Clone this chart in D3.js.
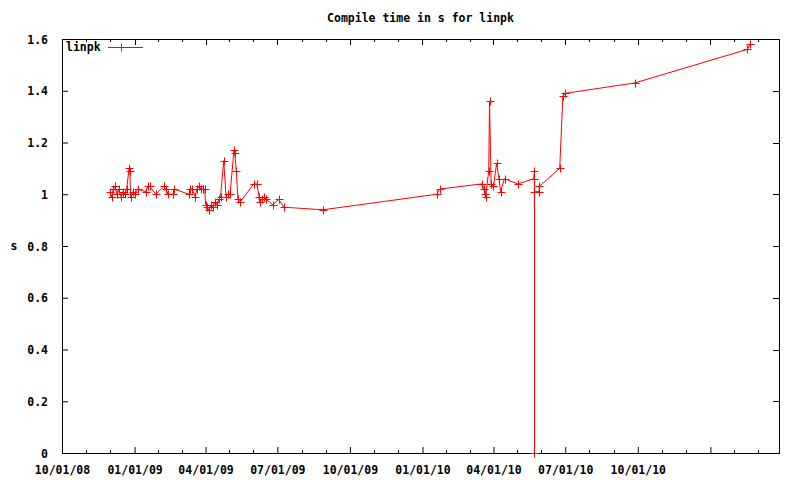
<!DOCTYPE html>
<html>
<head>
<meta charset="utf-8">
<script src="https://cdn.jsdelivr.net/npm/d3@7"></script>
<style>
  body { margin: 0; background: #fff; }
  text { font-family: "DejaVu Sans Mono", monospace; font-size: 11.5px; font-weight: bold; fill: #000; }
</style>
</head>
<body>
<svg id="chart"></svg>
<script>
// compile dates and times (s) for linpk
const dates = [
  "2008-12-01", "2008-12-03", "2008-12-05", "2008-12-07", "2008-12-10", "2008-12-12",
  "2008-12-15", "2008-12-17", "2008-12-20", "2008-12-22", "2008-12-25", "2008-12-26",
  "2008-12-27", "2008-12-30", "2009-01-01", "2009-01-05", "2009-01-15", "2009-01-18",
  "2009-01-20", "2009-01-28", "2009-02-07", "2009-02-10", "2009-02-12", "2009-02-19",
  "2009-02-20", "2009-03-11", "2009-03-12", "2009-03-15", "2009-03-19", "2009-03-21",
  "2009-03-24", "2009-03-26", "2009-03-29", "2009-03-31", "2009-04-01", "2009-04-03",
  "2009-04-05", "2009-04-08", "2009-04-10", "2009-04-13", "2009-04-15", "2009-04-18",
  "2009-04-20", "2009-04-24", "2009-04-27", "2009-04-29", "2009-05-02", "2009-05-07",
  "2009-05-08", "2009-05-10", "2009-05-12", "2009-05-15", "2009-06-01", "2009-06-05",
  "2009-06-08", "2009-06-09", "2009-06-11", "2009-06-14", "2009-06-17", "2009-06-25",
  "2009-07-03", "2009-07-09", "2009-08-28", "2010-01-19", "2010-01-23", "2010-03-17",
  "2010-03-20", "2010-03-21", "2010-03-22", "2010-03-26", "2010-03-27", "2010-03-29",
  "2010-04-01", "2010-04-05", "2010-04-08", "2010-04-10", "2010-04-15", "2010-05-02",
  "2010-05-22", "2010-05-23", "2010-05-23", "2010-05-23", "2010-05-29", "2010-05-29",
  "2010-06-24", "2010-06-28", "2010-07-01", "2010-09-27", "2011-02-17", "2011-02-20"
];
const times = [
  1.01, 0.99, 1.02, 1.03, 1.00, 1.02,
  0.99, 1.01, 1.00, 1.02, 1.10, 1.09,
  0.99, 1.01, 1.00, 1.02, 1.01, 1.03,
  1.03, 1.00, 1.03, 1.02, 1.00, 1.00,
  1.02, 1.00, 1.02, 1.02, 0.99, 1.02,
  1.03, 1.02, 1.02, 1.02, 0.96, 0.95,
  0.94, 0.96, 0.95, 0.97, 0.96, 0.98,
  0.99, 1.13, 0.99, 1.00, 1.00, 1.17,
  1.16, 1.09, 0.98, 0.97, 1.04, 1.04,
  0.99, 0.97, 0.98, 0.99, 0.98, 0.96,
  0.98, 0.95, 0.94, 1.00, 1.02, 1.04,
  1.02, 1.00, 0.99, 1.09, 1.36, 1.04,
  1.03, 1.12, 1.06, 1.01, 1.06, 1.04,
  1.06, 1.09, 0.00, 1.01, 1.01, 1.03,
  1.10, 1.38, 1.39, 1.43, 1.56, 1.58
];

const xTickDates = ["2008-10-01", "2009-01-01", "2009-04-01", "2009-07-01", "2009-10-01",
                    "2010-01-01", "2010-04-01", "2010-07-01", "2010-10-01", "2011-01-01"];
const xTickLabels = ["10/01/08", "01/01/09", "04/01/09", "07/01/09", "10/01/09",
                     "01/01/10", "04/01/10", "07/01/10", "10/01/10", ""];
const yTicks = [0, 0.2, 0.4, 0.6, 0.8, 1, 1.2, 1.4, 1.6];
const xDomain = ["2008-10-01", "2011-03-29"];

const parseDate = d3.utcParse("%Y-%m-%d");

class compileChart {
    constructor(_config, _data) {
        this.config = {
            parentElement: _config.parentElement,
            containerWidth: _config.containerWidth || 800,
            containerHeight: _config.containerHeight || 480,
            margin: _config.margin || {top: 39, right: 21, bottom: 27, left: 62}
        }
        this.data = _data;
        this.initVis();
    }

    initVis() {
        let vis = this;

        vis.width = vis.config.containerWidth - vis.config.margin.left - vis.config.margin.right;
        vis.height = vis.config.containerHeight - vis.config.margin.top - vis.config.margin.bottom;

        vis.xScale = d3.scaleUtc()
            .domain(xDomain.map(parseDate))
            .range([0, vis.width]);

        vis.yScale = d3.scaleLinear()
            .domain([0, 1.6])
            .range([vis.height, 0]);

        vis.svg = d3.select(vis.config.parentElement)
            .attr('width', vis.config.containerWidth)
            .attr('height', vis.config.containerHeight);

        vis.chart = vis.svg.append('g')
            .attr('transform', `translate(${vis.config.margin.left},${vis.config.margin.top})`);

        // major x tics every 3 months, two minor tics between
        vis.majorX = xTickDates.map(parseDate);
        vis.minorX = [];
        vis.majorX.forEach((d, i) => {
            let next = vis.majorX[i + 1] || d3.utcMonth.offset(d, 3);
            let step = (next - d) / 3;
            [1, 2].forEach(k => {
                let m = new Date(+d + k * step);
                if (m <= vis.xScale.domain()[1]) vis.minorX.push(m);
            });
        });

        vis.xAxis = d3.axisBottom(vis.xScale)
            .tickValues(vis.majorX)
            .tickFormat((d, i) => xTickLabels[i])
            .tickSizeInner(-6)
            .tickSizeOuter(0)
            .tickPadding(13);

        vis.yAxis = d3.axisLeft(vis.yScale)
            .tickValues(yTicks)
            .tickFormat(d => d === 0 || d === 1 ? d3.format("d")(d) : d3.format(".1f")(d))
            .tickSizeInner(-6)
            .tickSizeOuter(0)
            .tickPadding(14);

        // Chart title
        vis.svg.append('text')
            .attr('x', vis.config.margin.left + vis.width / 2)
            .attr('y', 22)
            .attr('text-anchor', 'middle')
            .text('Compile time in s for linpk');

        // Y axis label
        vis.svg.append('text')
            .attr('x', 14)
            .attr('y', vis.config.margin.top + vis.height / 2 + 4)
            .attr('text-anchor', 'middle')
            .text('s');
    }

    updateVis() {
        let vis = this;

        vis.xValue = d => d.date;
        vis.yValue = d => d.value;

        vis.line = d3.line()
            .x(d => vis.xScale(vis.xValue(d)))
            .y(d => vis.yScale(vis.yValue(d)));

        vis.renderVis();
    }

    renderVis() {
        let vis = this;

        vis.xAxisG = vis.chart.append('g')
            .attr('class', 'axis x-axis')
            .attr('transform', `translate(0,${vis.height})`)
            .call(vis.xAxis);

        vis.yAxisG = vis.chart.append('g')
            .attr('class', 'axis y-axis')
            .call(vis.yAxis);

        vis.chart.selectAll('.domain').remove();
        vis.chart.selectAll('.tick line').attr('stroke', '#000');
        vis.chart.selectAll('.tick text')
            .style('font-family', '"DejaVu Sans Mono", monospace')
            .style('font-size', '11.5px')
            .style('font-weight', 'bold');
        vis.yAxisG.selectAll('.tick text').attr('dy', '0.35em');

        // mirrored tics on top and right
        vis.chart.append('g')
            .selectAll('line')
            .data(vis.majorX)
            .join('line')
            .attr('x1', d => Math.round(vis.xScale(d)) + 0.5)
            .attr('x2', d => Math.round(vis.xScale(d)) + 0.5)
            .attr('y1', 0).attr('y2', 6)
            .attr('stroke', '#000');

        vis.chart.append('g')
            .selectAll('line')
            .data(vis.minorX)
            .join('line')
            .attr('x1', d => Math.round(vis.xScale(d)) + 0.5)
            .attr('x2', d => Math.round(vis.xScale(d)) + 0.5)
            .attr('y1', 0).attr('y2', 3)
            .attr('stroke', '#000');

        vis.chart.append('g')
            .selectAll('line')
            .data(vis.minorX)
            .join('line')
            .attr('x1', d => Math.round(vis.xScale(d)) + 0.5)
            .attr('x2', d => Math.round(vis.xScale(d)) + 0.5)
            .attr('y1', vis.height).attr('y2', vis.height - 3)
            .attr('stroke', '#000');

        vis.chart.append('g')
            .selectAll('line')
            .data(yTicks)
            .join('line')
            .attr('x1', vis.width).attr('x2', vis.width - 6)
            .attr('y1', d => Math.round(vis.yScale(d)) + 0.5)
            .attr('y2', d => Math.round(vis.yScale(d)) + 0.5)
            .attr('stroke', '#000');

        // border
        vis.chart.append('rect')
            .attr('x', 0.5).attr('y', 0.5)
            .attr('width', vis.width).attr('height', vis.height)
            .attr('fill', 'none')
            .attr('stroke', '#000');

        // data line
        vis.chart.append('path')
            .datum(vis.data)
            .attr('class', 'chart-line')
            .attr('d', vis.line)
            .attr('fill', 'none')
            .attr('stroke', '#ff0000')
            .attr('stroke-width', 1);

        // + markers
        vis.chart.append('g')
            .selectAll('path')
            .data(vis.data)
            .join('path')
            .attr('d', d => {
                let x = Math.round(vis.xScale(vis.xValue(d))) + 0.5;
                let y = Math.round(vis.yScale(vis.yValue(d))) + 0.5;
                return `M${x - 4},${y}H${x + 4}M${x},${y - 4}V${y + 4}`;
            })
            .attr('stroke', '#ff0000')
            .attr('fill', 'none');

        // Legend
        let legend = vis.chart.append('g')
            .attr('transform', 'translate(0,8)');
        legend.append('text')
            .attr('x', 4)
            .attr('y', 4)
            .text('linpk');
        legend.append('line')
            .attr('x1', 46).attr('x2', 81)
            .attr('y1', 0.5).attr('y2', 0.5)
            .attr('stroke', '#ff0000');
        legend.append('path')
            .attr('d', 'M59.5,-3.5V4.5')
            .attr('stroke', '#ff0000');
    }
}

const data = dates.map((d, i) => ({date: parseDate(d), value: times[i]}));

let chart = new compileChart({parentElement: '#chart'}, data);
chart.updateVis();
</script>
</body>
</html>
